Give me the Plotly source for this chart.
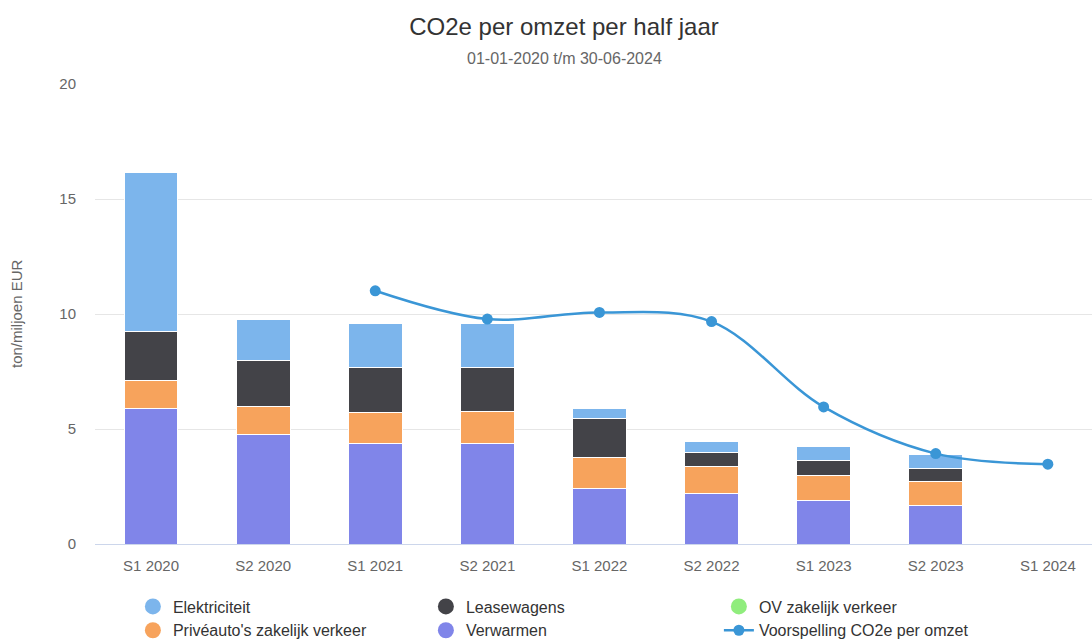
"""CO2e per omzet per half jaar: stacked bars with a forecast spline."""

import plotly.graph_objects as go

periods = ["S1 2020", "S2 2020", "S1 2021", "S2 2021", "S1 2022",
           "S2 2022", "S1 2023", "S2 2023", "S1 2024"]

verwarmen = [5.91, 4.74, 4.35, 4.35, 2.42, 2.20, 1.91, 1.67, None]
priveauto = [1.22, 1.23, 1.37, 1.39, 1.35, 1.16, 1.09, 1.05, None]
leasewagens = [2.10, 2.03, 1.95, 1.93, 1.68, 0.63, 0.65, 0.57, None]
ov_zakelijk = [0.0, 0.0, 0.0, 0.0, 0.0, 0.0, 0.0, 0.0, None]
elektriciteit = [6.93, 1.74, 1.90, 1.92, 0.45, 0.46, 0.58, 0.58, None]

forecast = [None, None, 11.01, 9.78, 10.07, 9.67, 5.96, 3.93, 3.47]

# stacking order is bottom-up; legend order is set with legendrank
bar_series = [
    ("Verwarmen", verwarmen, "#8085e9", 5),
    ("Privéauto's zakelijk verkeer", priveauto, "#f7a35c", 4),
    ("Leasewagens", leasewagens, "#434348", 2),
    ("OV zakelijk verkeer", ov_zakelijk, "#90ed7d", 3),
    ("Elektriciteit", elektriciteit, "#7cb5ec", 1),
]
line_color = "#3a96d6"
font_family = "Liberation Sans, Arial, Helvetica, sans-serif"

fig = go.Figure()
for name, values, color, rank in bar_series:
    fig.add_trace(
        go.Bar(
            x=periods,
            y=values,
            name=name,
            marker={"color": color, "line": {"color": "#ffffff", "width": 1}},
            width=0.48,
            showlegend=False,
        )
    )
    # round legend symbol, like the original
    fig.add_trace(
        go.Scatter(
            x=[None],
            y=[None],
            mode="markers",
            name=name,
            legendrank=rank,
            marker={"color": color, "size": 16, "symbol": "circle"},
        )
    )

fig.add_trace(
    go.Scatter(
        x=periods,
        y=forecast,
        name="Voorspelling CO2e per omzet",
        mode="lines+markers",
        line={"color": line_color, "width": 2.5, "shape": "spline", "smoothing": 1.0},
        marker={"color": line_color, "size": 11},
        legendrank=6,
    )
)

fig.update_layout(
    width=1092,
    height=642,
    barmode="stack",
    plot_bgcolor="white",
    paper_bgcolor="white",
    font={"family": font_family, "color": "#666666", "size": 15},
    margin={"l": 95, "r": 0, "t": 84, "b": 98, "autoexpand": False},
    title={
        "text": "CO2e per omzet per half jaar",
        "x": 564 / 1092,
        "xanchor": "center",
        "xref": "container",
        "yref": "container",
        "y": 1 - 27 / 642,
        "yanchor": "middle",
        "font": {"size": 24, "color": "#333333"},
    },
    legend={
        "orientation": "h",
        "x": 0.038,
        "xanchor": "left",
        "y": -0.099,
        "yanchor": "top",
        "entrywidth": 248,
        "font": {"size": 16, "color": "#333333"},
        "traceorder": "normal",
    },
    showlegend=True,
    annotations=[
        {
            "text": "01-01-2020 t/m 30-06-2024",
            "xref": "paper",
            "yref": "paper",
            "x": (564 - 95) / 997,
            "y": (544 - 58) / 460,
            "xanchor": "center",
            "yanchor": "middle",
            "showarrow": False,
            "font": {"size": 16, "color": "#666666"},
        },
        {
            "text": "ton/miljoen EUR",
            "xref": "paper",
            "yref": "paper",
            "x": (16 - 95) / 997,
            "y": 0.5,
            "xanchor": "center",
            "yanchor": "middle",
            "textangle": -90,
            "showarrow": False,
            "font": {"size": 15, "color": "#666666"},
        },
    ],
)

fig.update_xaxes(
    range=[-0.5, 8.394],
    showgrid=False,
    showline=True,
    linecolor="#ccd6eb",
    linewidth=1,
    ticks="",
    ticklabelstandoff=8,
    tickfont={"size": 15, "color": "#666666"},
)
fig.update_yaxes(
    range=[0, 20],
    tickvals=[0, 5, 10, 15, 20],
    gridcolor="#e6e6e6",
    gridwidth=1,
    zeroline=False,
    ticks="",
    ticklabelstandoff=18,
    tickfont={"size": 15, "color": "#666666"},
)

# drop the default page margin so the chart sits flush in the window
fig.write_html(
    "out.html",
    config={"displayModeBar": False},
    post_script="document.body.style.margin = '0';",
)
